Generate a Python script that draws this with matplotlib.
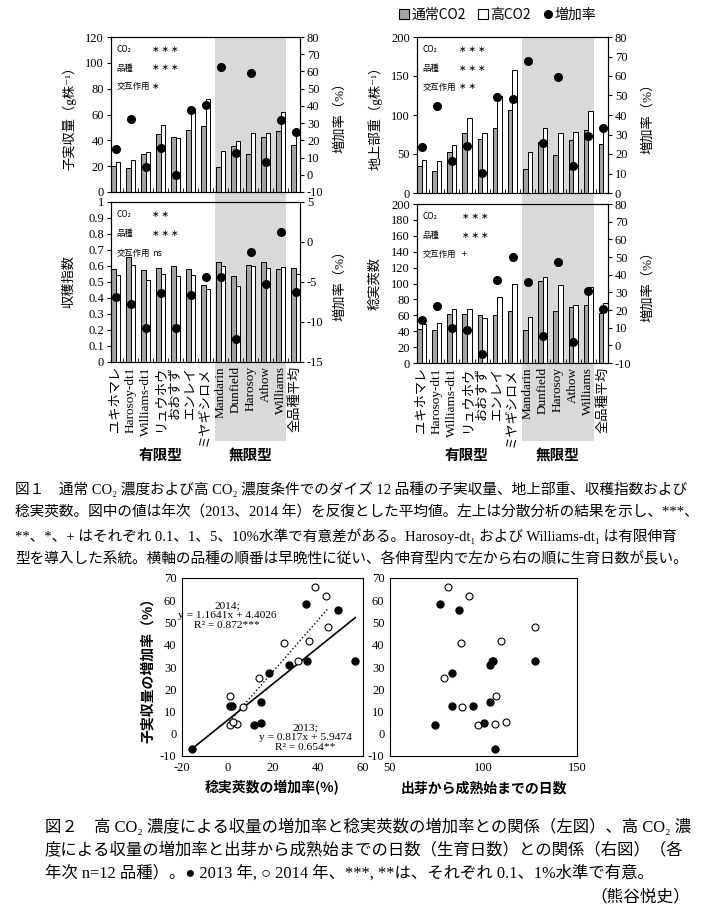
import numpy as np
import matplotlib
matplotlib.use('Agg')
from matplotlib import pyplot as plt
from matplotlib.lines import Line2D
from matplotlib.patches import Rectangle
from matplotlib.ticker import FuncFormatter
from matplotlib.transforms import blended_transform_factory

plt.rcParams['font.family'] = ['Liberation Serif', 'Noto Sans CJK JP', 'DejaVu Sans']
plt.rcParams['axes.unicode_minus'] = False

W, H = 705, 911
SANS = ['Noto Sans CJK JP', 'DejaVu Sans']

# ---- data: figure 1 ----
varieties = ['ユキホマレ', 'Harosoy-dt1', 'Williams-dt1', 'リュウホウ', 'おおすず', 'エンレイ',
             'ミヤギシロメ', 'Mandarin', 'Dunfield', 'Harosoy', 'Athow', 'Williams', '全品種平均']
determinate = [0, 1, 2, 3, 4, 5, 6]       # 有限型
indeterminate = [7, 8, 9, 10, 11]         # 無限型

yield_normal = [20, 18.6, 29.7, 45.2, 42.6, 48.3, 50.8, 19.4, 35.4, 29.2, 42.6, 47.5, 36.1]
yield_high = [23.2, 24.8, 31, 52.1, 41.8, 63.2, 72, 31.7, 39.5, 45.7, 45.7, 61.7, 44.4]
yield_rate = [15.2, 32.6, 4.7, 15.7, 0, 37.8, 40.3, 62.6, 12.5, 58.9, 7.6, 31.8, 25]

shoot_normal = [34.2, 28.2, 52.6, 76.9, 69.2, 83.3, 106.8, 31.2, 65, 48.7, 68.4, 81.2, 62.4]
shoot_high = [42.3, 41, 61.1, 96.2, 76.9, 124, 158, 52.6, 83.3, 76.9, 78.6, 105.6, 84.2]
shoot_rate = [23.4, 44.8, 16.2, 23.9, 10.3, 49.4, 48, 67.5, 25.6, 59.5, 13.7, 29.2, 33.2]

hi_normal = [0.584, 0.658, 0.574, 0.590, 0.599, 0.584, 0.481, 0.626, 0.538, 0.605, 0.626, 0.584, 0.590]
hi_high = [0.546, 0.605, 0.511, 0.548, 0.538, 0.542, 0.458, 0.603, 0.475, 0.603, 0.588, 0.595, 0.548]
hi_rate = [-6.9, -7.7, -10.8, -6.4, -10.8, -6.6, -4.4, -4.4, -12.1, -1.3, -5.2, 1.3, -6.2]

pod_normal = [43.3, 41.2, 61.3, 61.3, 60.1, 60.5, 66, 42, 102.9, 66, 70.6, 73.1, 62.6]
pod_high = [48.7, 50.4, 67.6, 67.6, 57.1, 83.2, 99.2, 58.4, 108.4, 98.3, 73.1, 95.8, 75.2]
pod_rate = [14.6, 22.5, 9.9, 8.7, -5.1, 36.9, 49.9, 35.6, 5.3, 47.3, 2.1, 30.5, 20.4]

stats_yield = [('CO₂', '∗ ∗ ∗'), ('品種', '∗ ∗ ∗'), ('交互作用', '∗')]
stats_shoot = [('CO₂', '∗ ∗ ∗'), ('品種', '∗ ∗ ∗'), ('交互作用', '∗ ∗')]
stats_hi = [('CO₂', '∗ ∗'), ('品種', '∗ ∗ ∗'), ('交互作用', 'ns')]
stats_pod = [('CO₂', '∗ ∗ ∗'), ('品種', '∗ ∗ ∗'), ('交互作用', '+')]

# ---- data: figure 2 ----
pod_inc_2013 = [34.6, 48.8, 18.5, 1.3, 2.0, 11.8, 14.8, 14.8, 27.2, 35.4, 56.6, -15.5]
yield_inc_2013 = [58.5, 55.6, 27.2, 12.3, 12.3, 4.0, 4.8, 14.1, 31.0, 32.8, 32.8, -7.0]
days_2013 = [76.9, 86.7, 83.3, 83.3, 94.5, 73.9, 100.4, 103.3, 103.7, 105.3, 127.5, 106.3]

pod_inc_2014 = [38.7, 43.6, 44.6, 36.1, 24.9, 14.0, 1.3, 6.9, 1.0, 4.3, 2.4, 31.2]
yield_inc_2014 = [66.0, 61.8, 47.8, 41.8, 40.8, 25.2, 17.1, 12.1, 4.0, 4.4, 5.4, 32.9]
days_2014 = [81, 92, 127.5, 109.2, 88.2, 78.8, 106.9, 88.6, 97.1, 106.3, 111.8, 104.5]

fit_2013 = (0.817, 5.9474)
fit_2014 = (1.1641, 4.4026)

caption1 = ['図１　通常 CO₂ 濃度および高 CO₂ 濃度条件でのダイズ 12 品種の子実収量、地上部重、収穫指数および',
            '稔実莢数。図中の値は年次（2013、2014 年）を反復とした平均値。左上は分散分析の結果を示し、***、',
            '**、*、+ はそれぞれ 0.1、1、5、10%水準で有意差がある。Harosoy-dt₁ および Williams-dt₁ は有限伸育',
            '型を導入した系統。横軸の品種の順番は早晩性に従い、各伸育型内で左から右の順に生育日数が長い。']
caption2 = ['図２　高 CO₂ 濃度による収量の増加率と稔実莢数の増加率との関係（左図）、高 CO₂ 濃',
            '度による収量の増加率と出芽から成熟始までの日数（生育日数）との関係（右図）（各',
            '年次 n=12 品種）。● 2013 年, ○ 2014 年、***, **は、それぞれ 0.1、1%水準で有意。']
author = '（熊谷悦史）'


def px_rect(left, top, right, bottom):
    return [left / W, 1 - bottom / H, (right - left) / W, (bottom - top) / H]


fig = plt.figure(figsize=(W / 100, H / 100), dpi=100)
bw = 0.3
xs = np.arange(len(varieties))
fmt = FuncFormatter(lambda v, p: f'{round(v, 6):g}')


def bar_panel(box, normal, high, rate, ylim, ystep, rlim, rstep, ylabel, stats, stats_x, names):
    ax = fig.add_axes(px_rect(*box))
    ax.set_facecolor('none')
    ax.bar(xs - bw / 2, normal, bw, color='#a3a3a3', edgecolor='black', linewidth=0.7, zorder=2)
    ax.bar(xs + bw / 2, high, bw, color='white', edgecolor='black', linewidth=0.7, zorder=2)
    ax.set_xlim(-bw, len(xs) - 1 + bw)
    ax.set_ylim(*ylim)
    ax.set_yticks(np.arange(ylim[0], ylim[1] + ystep / 2, ystep))
    ax.yaxis.set_major_formatter(fmt)
    ax.tick_params(axis='y', labelsize=9, length=3, pad=2)
    ax.set_xticks(xs)
    ax.set_xticks(xs[:-1] + 0.5, minor=True)
    ax.tick_params(axis='x', which='major', length=0, pad=3)
    ax.tick_params(axis='x', which='minor', length=3, direction='in')
    if names:
        ax.set_xticklabels(varieties, rotation=90, fontsize=9.5, va='top', ha='center')
    else:
        ax.set_xticklabels([])
    for s in ax.spines.values():
        s.set_linewidth(0.8)

    ax2 = ax.twinx()
    ax2.plot(xs, rate, 'o', color='black', ms=5.5, ls='none', zorder=3)
    ax2.set_ylim(*rlim)
    ax2.set_yticks(np.arange(rlim[0], rlim[1] + rstep / 2, rstep))
    ax2.yaxis.set_major_formatter(fmt)
    ax2.tick_params(axis='y', labelsize=9, length=3, pad=2)

    left, top, right, bottom = box
    cy = 1 - (top + bottom) / 2 / H
    fig.text((left - 0.22 * (right - left)) / W, cy, ylabel, rotation=90, ha='center', va='center',
             fontsize=9.5)
    fig.text((left + 1.21 * (right - left)) / W, cy, '増加率（%）', rotation=90, ha='center', va='center',
             fontsize=9.5)

    for i, (lab, mark) in enumerate(stats):
        y = 0.92 - 0.12 * i
        ax.text(0.03, y, lab, transform=ax.transAxes, fontsize=6, family=SANS, va='center')
        ax.text(stats_x, y, mark, transform=ax.transAxes, fontsize=6.5, family=SANS, va='center')
    return ax


ax_tl = bar_panel((111, 37, 300, 192), yield_normal, yield_high, yield_rate, (0, 120), 20, (-10, 80), 10,
                  '子実収量（g株⁻¹）', stats_yield, 0.215, False)
ax_bl = bar_panel((111, 202, 300, 362), hi_normal, hi_high, hi_rate, (0, 1), 0.1, (-15, 5), 5,
                  '収穫指数', stats_hi, 0.215, True)
ax_tr = bar_panel((417, 37, 608, 193), shoot_normal, shoot_high, shoot_rate, (0, 200), 50, (0, 80), 10,
                  '地上部重（g株⁻¹）', stats_shoot, 0.22, False)
ax_br = bar_panel((417, 204, 608, 363), pod_normal, pod_high, pod_rate, (0, 200), 20, (-10, 80), 10,
                  '稔実莢数', stats_pod, 0.235, True)

# shaded band for the indeterminate group, spanning both panels and labels
for ax in (ax_bl, ax_br):
    tr = blended_transform_factory(ax.transData, fig.transFigure)
    x0 = indeterminate[0] - 0.37
    x1 = indeterminate[-1] + 0.37
    fig.add_artist(Rectangle((x0, 1 - 441 / H), x1 - x0, (441 - 37) / H, transform=tr,
                             facecolor='#d9d9d9', edgecolor='none', zorder=-1))
    ax.text(np.mean(determinate), 1 - 455 / H, '有限型', transform=tr, ha='center', va='center',
            fontsize=10.5, family=SANS, fontweight='bold')
    ax.text(np.mean(indeterminate), 1 - 455 / H, '無限型', transform=tr, ha='center', va='center',
            fontsize=10.5, family=SANS, fontweight='bold')

handles = [Line2D([], [], marker='s', ls='none', mfc='#a3a3a3', mec='black', ms=6.5, mew=0.8),
           Line2D([], [], marker='s', ls='none', mfc='white', mec='black', ms=6.5, mew=0.8),
           Line2D([], [], marker='o', ls='none', mfc='black', mec='black', ms=5.5)]
fig.legend(handles, ['通常CO2', '高CO2', '増加率'], loc='center', bbox_to_anchor=(498 / W, 1 - 15 / H),
           ncol=3, frameon=False, prop={'family': SANS, 'size': 10}, handlelength=0.7,
           handletextpad=0.15, columnspacing=0.9)


def caption_block(lines, x0, x1, y0, dy):
    # draw the lines, then scale the font so the first line spans x0..x1
    texts = [fig.text(x0 / W, 1 - (y0 + dy * i) / H, s, ha='left', va='center', fontsize=10)
             for i, s in enumerate(lines)]
    r = fig.canvas.get_renderer()
    w = texts[0].get_window_extent(renderer=r).width
    for t in texts:
        t.set_fontsize(10 * (x1 - x0) / w)
    return texts


caption_block(caption1, 15, 690, 489, 23.5)

# ---- figure 2 scatters ----
axl = fig.add_axes(px_rect(182, 578, 363, 756))
axr = fig.add_axes(px_rect(390, 578, 577, 756))

for ax in (axl, axr):
    ax.set_ylim(-10, 70)
    ax.set_yticks(np.arange(-10, 71, 10))
    ax.tick_params(labelsize=9, length=0, pad=4)
    for s in ax.spines.values():
        s.set_linewidth(0.8)

x13 = np.array([min(pod_inc_2013), max(pod_inc_2013)])
x14 = np.array([min(pod_inc_2014), max(pod_inc_2014)])
axl.plot(x13, fit_2013[0] * x13 + fit_2013[1], color='black', lw=1.2, zorder=1)
axl.plot(x14, fit_2014[0] * x14 + fit_2014[1], color='black', lw=1.0, ls=':', zorder=1)
axl.plot(pod_inc_2013, yield_inc_2013, 'o', color='black', ms=5, ls='none', zorder=3)
axl.plot(pod_inc_2014, yield_inc_2014, 'o', mfc='white', mec='black', mew=0.8, ms=5, ls='none', zorder=2)
axl.set_xlim(-20, 60)
axl.set_xticks([-20, 0, 20, 40, 60])
axl.text(0.25, 0.79, '2014;\ny = 1.1641x + 4.4026\nR² = 0.872***', transform=axl.transAxes,
         ha='center', va='center', fontsize=8.2, linespacing=1.1)
axl.text(0.68, 0.105, '2013;\ny = 0.817x + 5.9474\nR² = 0.654**', transform=axl.transAxes,
         ha='center', va='center', fontsize=8.2, linespacing=1.1)

axr.plot(days_2014, yield_inc_2014, 'o', mfc='white', mec='black', mew=0.8, ms=5, ls='none', zorder=2)
axr.plot(days_2013, yield_inc_2013, 'o', color='black', ms=5, ls='none', zorder=3)
axr.set_xlim(50, 150)
axr.set_xticks([50, 100, 150])

fig.text((182 + 363) / 2 / W, 1 - 788 / H, '稔実莢数の増加率(%)', ha='center', va='center',
         fontsize=10, family=SANS, fontweight='bold')
fig.text((390 + 577) / 2 / W, 1 - 788 / H, '出芽から成熟始までの日数', ha='center', va='center',
         fontsize=10, family=SANS, fontweight='bold')
fig.text(148 / W, 1 - 667 / H, '子実収量の増加率（%）', rotation=90, ha='center', va='center',
         fontsize=10, family=SANS, fontweight='bold')

caption_block(caption2, 45, 690, 827, 23)
fig.text(690 / W, 1 - 897 / H, author, ha='right', va='center', fontsize=12)

fig.savefig('out.png', dpi=100)
